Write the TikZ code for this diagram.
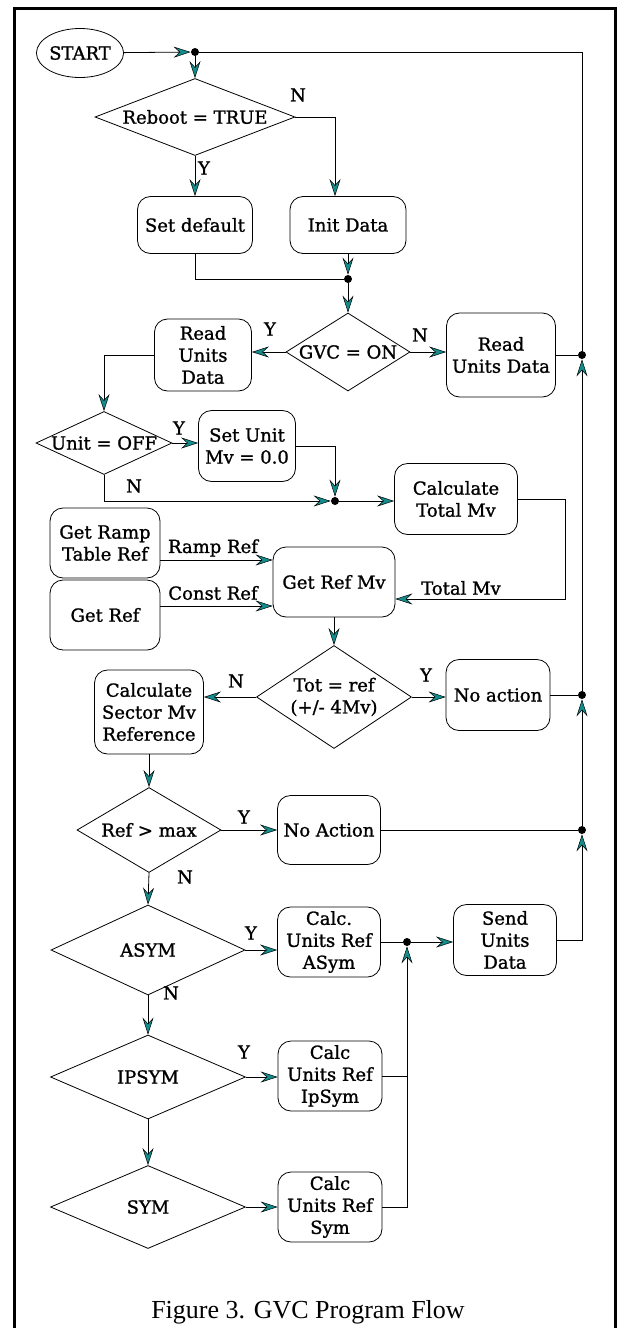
\documentclass[tikz,border=0pt]{standalone}
\usepackage{fontspec}
\setmainfont{DejaVu Serif}
\newfontfamily\flowfam[FakeBold=1.2]{DejaVu Serif}
\newfontfamily\capfont{Liberation Serif}
\usetikzlibrary{shapes.geometric,arrows.meta}
\definecolor{arrowteal}{RGB}{20,140,140}
\newcommand{\flowfont}{\flowfam\fontsize{18}{22}\selectfont}

\begin{document}
\begin{tikzpicture}[x=1pt, y=-1pt, line width=0.8pt,
		>={Stealth[length=17pt,width=11pt,inset=6pt,fill=arrowteal,line width=0.5pt]},
		box/.style={draw, rectangle, rounded corners=13pt, align=center, inner sep=2pt, font=\flowfont},
		decis/.style={draw, diamond, inner sep=0pt, label={[font=\flowfont, align=center]center:#1}},
		dot/.style={circle, fill, inner sep=0pt, minimum size=8pt},
		lbl/.style={font=\flowfont}]
				\useasboundingbox (0,0) rectangle (618,1328);
				%frame
				\draw[line width=3pt] (14,8) rectangle (615,1345);
				
				%top part
				\node[draw, ellipse, inner sep=0pt, minimum width=85pt, minimum height=49pt, font=\flowfont] (start) at (80,53) {START};
				\node[dot] (j0) at (195,52) {};
				\node[decis={Reboot = TRUE}, minimum width=200pt, minimum height=77pt] (reboot) at (195,117) {};
				\node[box, minimum width=115pt, minimum height=57pt] (setdef) at (195,225) {Set default};
				\node[box, minimum width=116pt, minimum height=57pt] (init) at (348,225) {Init Data};
				\node[dot] (j1) at (348,279) {};
				\node[decis={GVC = ON}, minimum width=124pt, minimum height=78pt] (gvc) at (348,352) {};
				\node[box, minimum width=97pt, minimum height=72pt] (rudL) at (203,355) {Read\\Units\\Data};
				\node[box, minimum width=109pt, minimum height=84pt] (rudR) at (501,355) {Read\\Units Data};
				\node[dot] (jR1) at (582,355) {};
				
				%unit check
				\node[decis={Unit = OFF}, minimum width=136pt, minimum height=63pt] (unitoff) at (104,443) {};
				\node[box, minimum width=97pt, minimum height=71pt] (setunit) at (247,446) {Set Unit\\Mv = 0.0};
				\node[dot] (j2) at (335,501) {};
				\node[box, minimum width=123pt, minimum height=71pt] (calctot) at (456,499) {Calculate\\Total Mv};
				\node[box, minimum width=110pt, minimum height=70pt] (ramp) at (105,543) {Get Ramp\\Table Ref};
				\node[box, minimum width=110pt, minimum height=70pt] (getref) at (105,615) {Get Ref};
				\node[box, minimum width=122pt, minimum height=70pt] (getrefmv) at (334,582) {Get Ref Mv};
				
				%reference check
				\node[decis={Tot = ref\\(+/- 4Mv)}, minimum width=155pt, minimum height=103pt] (tot) at (334,697) {};
				\node[box, minimum width=109pt, minimum height=84pt] (sector) at (149,712) {Calculate\\Sector Mv\\Reference};
				\node[box, minimum width=104pt, minimum height=71pt] (noact1) at (498,695) {No action};
				\node[dot] (jR2) at (582,695) {};
				\node[decis={Ref > max}, minimum width=144pt, minimum height=85pt] (refmax) at (149,830) {};
				\node[box, minimum width=103pt, minimum height=69pt] (noact2) at (329,830) {No Action};
				\node[dot] (jR3) at (582,830) {};
				
				%symmetry modes
				\node[decis={ASYM}, minimum width=194pt, minimum height=90pt] (asym) at (148,950) {};
				\node[box, minimum width=103pt, minimum height=70pt] (calcA) at (329,942) {Calc.\\Units Ref\\ASym};
				\node[dot] (j3) at (407,942) {};
				\node[box, minimum width=103pt, minimum height=71pt] (send) at (505,940) {Send\\Units\\Data};
				\node[decis={IPSYM}, minimum width=195pt, minimum height=84pt] (ipsym) at (148,1077) {};
				\node[box, minimum width=104pt, minimum height=70pt] (calcIp) at (330,1076) {Calc\\Units Ref\\IpSym};
				\node[decis={SYM}, minimum width=195pt, minimum height=83pt] (sym) at (148,1207) {};
				\node[box, minimum width=104pt, minimum height=70pt] (calcS) at (330,1207) {Calc\\Units Ref\\Sym};
				
				%connectors
				\draw[->] (start) -- (j0);
				\draw[->] (j0) -- (reboot.north);
				\draw[->] (reboot.south) -- (setdef.north);
				\draw[->] (reboot.east) -| ([xshift=-13pt]init.north);
				\draw (setdef.south) |- (j1);
				\draw[->] (init.south) -- (j1);
				\draw[->] (j1) -- (gvc.north);
				\draw[->] (gvc.west) -- (gvc.west -| rudL.east);
				\draw[->] (gvc.east) -- (gvc.east -| rudR.west);
				\draw (rudR) -- (jR1);
				\draw[->] (rudL.west) -| (unitoff.north);
				\draw[->] (unitoff.east) -- (unitoff.east -| setunit.west);
				\draw[->] (setunit.east) -| (j2);
				\draw[->] (unitoff.south) |- (j2);
				\draw[->] (j2) -- (j2 -| calctot.west);
				\draw[->] (calctot.east) -- ++(47,0) |- ([yshift=-17pt]getrefmv.east);
				\draw[->] ([yshift=-17pt]ramp.east) -- ([yshift=-17pt]ramp.east -| getrefmv.west);
				\draw[->] ([yshift=9pt]getref.east) -- ([yshift=9pt]getref.east -| getrefmv.west);
				\draw[->] (getrefmv.south) -- (tot.north);
				\draw[->] (tot.west) -- (tot.west -| sector.east);
				\draw[->] (tot.east) -- (tot.east -| noact1.west);
				\draw (noact1) -- (jR2);
				\draw[->] (sector.south) -- (refmax.north);
				\draw[->] (refmax.east) -- (noact2.west);
				\draw (noact2) -- (jR3);
				\draw[->] (refmax.south) -- (asym.north);
				\draw[->] (asym.east) -- (asym.east -| calcA.west);
				\draw (calcA) -- (j3);
				\draw[->] (j3) -- (j3 -| send.west);
				\draw[->] (asym.south) -- (ipsym.north);
				\draw[->] (ipsym.east) -- (ipsym.east -| calcIp.west);
				\draw (calcIp.east) -- (calcIp.east -| j3);
				\draw[->] (ipsym.south) -- (sym.north);
				\draw[->] (sym.east) -- (sym.east -| calcS.west);
				\draw[->] (calcS.east) -| (j3);
				
				%return line
				\draw[->] (send.east) -| (jR3);
				\draw[->] (jR3) -- (jR2);
				\draw[->] (jR2) -- (jR1);
				\draw (jR1) |- (j0);
				
				%branch labels
				\node[lbl] (nReboot) at (298,95) {N};
				\node[lbl] (yReboot) at (204,168) {Y};
				\node[lbl] (yGvc) at (270,329) {Y};
				\node[lbl] (nGvc) at (420,335) {N};
				\node[lbl] (yUnit) at (179,428) {Y};
				\node[lbl] (nUnit) at (134,486) {N};
				\node[lbl] (lRamp) at (213,548) {Ramp Ref};
				\node[lbl] (lConst) at (213,593) {Const Ref};
				\node[lbl] (lTot) at (461,588) {Total Mv};
				\node[lbl] (nTot) at (236,681) {N};
				\node[lbl] (yTot) at (426,675) {Y};
				\node[lbl] (yRef) at (244,817) {Y};
				\node[lbl] (nRef) at (185,877) {N};
				\node[lbl] (yAsym) at (251,933) {Y};
				\node[lbl] (nAsym) at (171,993) {N};
				\node[lbl] (yIpsym) at (244,1052) {Y};
				
				\node[font=\capfont\fontsize{26}{30}\selectfont] (caption) at (308,1312) {Figure 3. GVC Program Flow};
			\end{tikzpicture}
\end{document}
